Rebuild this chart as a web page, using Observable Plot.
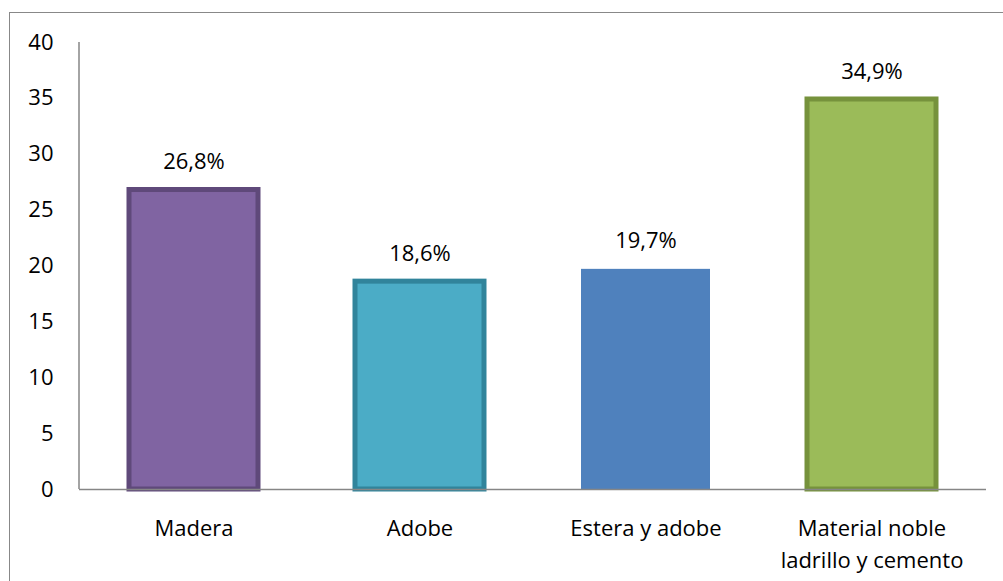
<!DOCTYPE html>
<html>
<head>
<meta charset="utf-8">
<script src="https://cdn.jsdelivr.net/npm/d3@7"></script>
<script src="https://cdn.jsdelivr.net/npm/@observablehq/plot@0.6"></script>
<style>
  html, body { margin: 0; padding: 0; background: #fff; }
  #wrap { position: relative; width: 1003px; height: 581px; overflow: hidden; }
  #frame { position: absolute; left: 9px; top: 12px; width: 1100px; height: 700px;
           border-left: 1.5px solid #888; border-top: 1.5px solid #888; box-sizing: border-box; }
  #chart { position: absolute; left: 0; top: 0; }
</style>
</head>
<body>
<div id="wrap"><div id="frame"></div><div id="chart"></div></div>
<script>
const categories = ["Madera", "Adobe", "Estera y adobe", "Material noble\nladrillo y cemento"];
const values = [26.8, 18.6, 19.7, 34.9];
const valueLabels = ["26,8%", "18,6%", "19,7%", "34,9%"];
const yTicks = [0, 5, 10, 15, 20, 25, 30, 35, 40];
const fillColors = ["#8064A2", "#4BACC6", "#4F81BD", "#9BBB59"];
const strokeColors = ["#5F497A", "#31849B", "none", "#76923C"];

const data = categories.map((c, i) => ({cat: c, value: values[i], label: valueLabels[i], fill: fillColors[i], stroke: strokeColors[i]}));

const font = "'Open Sans', sans-serif";
const chart = Plot.plot({
  width: 1003,
  height: 581,
  marginLeft: 79,
  marginRight: 17,
  marginTop: 42,
  marginBottom: 92,
  style: {fontFamily: font, fontSize: "22px", color: "#000", background: "transparent"},
  x: {domain: categories, paddingInner: 0.427, paddingOuter: 0.2135, label: null},
  y: {domain: [0, 40], label: null},
  marks: [
    Plot.barY(data, {x: "cat", y: "value", fill: "fill", stroke: "stroke", strokeWidth: 5}),
    Plot.ruleY([0], {stroke: "#868686", strokeWidth: 1.5}),
    Plot.text(data, {x: "cat", y: "value", text: "label", dy: -28, fontSize: 22, fill: "#000"}),
    Plot.axisY(yTicks, {tickSize: 0, tickPadding: 26, fontSize: 22, label: null}),
    Plot.axisX({tickSize: 0, tickPadding: 24, fontSize: 22, lineHeight: 1.45, label: null})
  ]
});
document.getElementById("chart").appendChild(chart);
// vertical axis line drawn from the plot's own y scale
const ys = chart.scale("y");
d3.select(chart).append("line")
  .attr("x1", 79).attr("x2", 79)
  .attr("y1", ys.apply(40)).attr("y2", ys.apply(0))
  .attr("stroke", "#868686").attr("stroke-width", 1.5);
</script>
</body>
</html>
